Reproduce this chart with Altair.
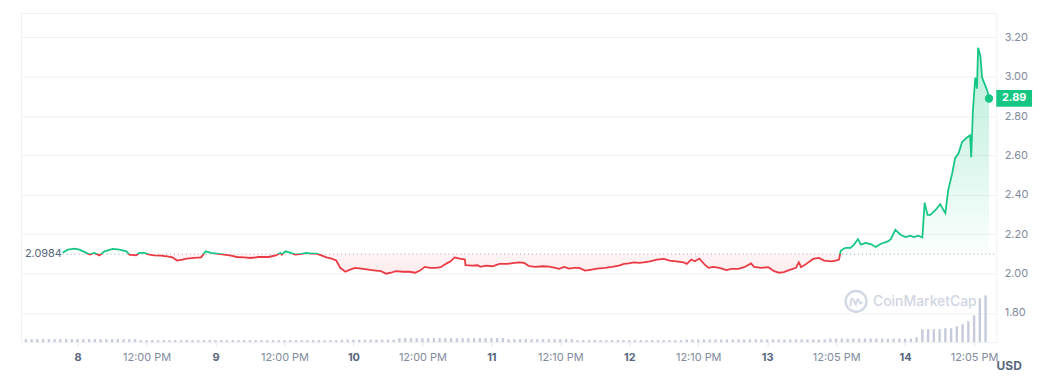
import altair as alt
import pandas as pd

# ---- data ----
# hours since "8" 00:00
hours = [
    -2.6, -1.7, -0.5, 0.3, 1.2, 2.1, 2.9, 3.8, 4.7, 6.1,
    7.3, 8.5, 9.0, 10.2, 10.7, 11.6, 12.5, 13.3, 14.5, 15.6,
    16.5, 17.3, 18.2, 19.0, 20.3, 21.5, 22.3, 23.2, 24.2, 25.5,
    26.7, 27.7, 28.9, 30.1, 31.5, 33.2, 34.5, 35.3, 35.5, 36.2,
    37.1, 37.9, 39.0, 39.8, 40.7, 41.6, 42.4, 43.3, 44.2, 45.0,
    45.7, 46.6, 47.4, 48.3, 49.4, 50.6, 51.9, 52.8, 53.7, 54.5,
    55.4, 56.6, 57.8, 58.7, 59.6, 60.4, 61.3, 62.3, 63.2, 63.9,
    64.4, 64.9, 65.6, 66.5, 67.4, 67.5, 68.7, 69.6, 70.1, 71.0,
    72.2, 73.4, 74.8, 76.0, 76.9, 77.7, 78.6, 79.7, 80.9, 82.1,
    83.1, 83.8, 84.7, 85.5, 86.4, 87.3, 88.3, 89.2, 90.4, 91.8,
    93.0, 94.2, 95.1, 95.9, 96.8, 97.7, 98.5, 99.6, 100.8, 102.0,
    103.0, 104.2, 105.4, 106.0, 106.8, 107.4, 108.2, 109.1, 109.8, 110.6,
    111.7, 112.9, 113.8, 115.0, 116.0, 117.2, 117.7, 119.0, 120.2, 121.2,
    122.1, 122.9, 123.8, 125.0, 125.5, 125.9, 126.8, 128.0, 129.0, 129.9,
    131.1, 131.9, 132.5, 132.8, 133.3, 133.7, 134.5, 135.1, 135.8, 136.3,
    137.1, 138.0, 138.9, 139.7, 141.0, 141.5, 142.3, 143.2, 144.1, 144.9,
    145.5, 146.3, 147.0, 147.4, 147.9, 148.4, 149.3, 150.1, 151.0, 151.5,
    152.2, 152.7, 153.3, 153.9, 154.8, 155.3, 155.5, 155.8, 156.2, 156.5,
    156.7, 157.1, 157.4, 157.6, 158.3, 158.6,
]
price = [
    2.105, 2.121, 2.126, 2.121, 2.110, 2.096, 2.105, 2.092, 2.113, 2.125,
    2.121, 2.113, 2.096, 2.092, 2.105, 2.105, 2.096, 2.092, 2.091, 2.087,
    2.082, 2.066, 2.071, 2.076, 2.079, 2.082, 2.113, 2.105, 2.101, 2.096,
    2.091, 2.084, 2.082, 2.079, 2.084, 2.084, 2.092, 2.105, 2.096, 2.113,
    2.105, 2.096, 2.100, 2.105, 2.101, 2.101, 2.092, 2.082, 2.076, 2.066,
    2.029, 2.009, 2.020, 2.029, 2.025, 2.020, 2.015, 2.012, 1.999, 2.004,
    2.012, 2.009, 2.009, 2.004, 2.015, 2.034, 2.029, 2.029, 2.032, 2.046,
    2.054, 2.062, 2.082, 2.076, 2.071, 2.042, 2.040, 2.042, 2.034, 2.040,
    2.037, 2.049, 2.049, 2.054, 2.057, 2.054, 2.037, 2.034, 2.037, 2.035,
    2.029, 2.024, 2.034, 2.025, 2.029, 2.029, 2.015, 2.019, 2.025, 2.029,
    2.034, 2.040, 2.049, 2.051, 2.057, 2.054, 2.057, 2.062, 2.071, 2.074,
    2.066, 2.062, 2.057, 2.049, 2.071, 2.062, 2.076, 2.046, 2.029, 2.034,
    2.029, 2.017, 2.024, 2.024, 2.032, 2.051, 2.034, 2.029, 2.032, 2.012,
    2.004, 2.007, 2.017, 2.029, 2.057, 2.032, 2.049, 2.074, 2.079, 2.066,
    2.062, 2.066, 2.071, 2.116, 2.126, 2.130, 2.130, 2.147, 2.175, 2.147,
    2.155, 2.150, 2.135, 2.150, 2.163, 2.175, 2.222, 2.197, 2.185, 2.192,
    2.185, 2.192, 2.183, 2.360, 2.298, 2.298, 2.323, 2.352, 2.307, 2.424,
    2.510, 2.586, 2.611, 2.667, 2.692, 2.702, 2.591, 2.828, 2.995, 2.939,
    3.147, 3.106, 2.995, 2.980, 2.929, 2.889,
]

# hourly volume (relative units), hours -9 .. 158
vol_hours = list(range(-9, 159))
volume = [
    3, 3, 3, 3, 3, 3, 3, 3, 3, 3, 3, 3, 3, 3, 3, 3, 3, 3, 3, 3,
    2, 2, 2, 2, 2, 2, 2, 2, 2, 2, 2, 2, 2, 2, 2, 2, 2, 2, 2, 2,
    2, 2, 2, 2, 2, 2, 2, 2, 2, 2, 2, 2, 2, 2, 2,
    2.5, 2.5, 2.5, 2.5, 2.5, 2.5, 2.5, 2.5, 2.5, 2.5,
    4, 4, 4, 4, 4, 4, 4, 4, 4, 4, 4, 4, 4, 4, 4, 4, 4, 4, 4,
    3, 3, 3, 3, 3, 3, 3, 3, 3, 3, 3, 3,
    2, 2, 2, 2, 2, 2, 2, 2, 2, 2, 2, 2, 2, 2, 2, 2, 2, 2, 2,
    2.7, 2.7, 2.7, 2.7, 2.7, 2.7, 2.7, 2.7, 2.7, 2.7, 2.7, 2.7, 2.7,
    2.7, 2.7, 2.7, 2.7, 2.7, 2.7, 2.7, 2.7, 2.7, 2.7, 2.7, 2.7,
    3.5, 3.5, 3.5, 3.5, 3.5, 3.5, 3.5, 3.5, 3.5, 3.5, 3.5, 3.5, 3.5, 3.5, 3.5,
    5,
    13, 13, 13, 13, 14,
    14, 16, 18, 21, 27, 44, 47,
]

tick_hours = [0, 12, 24, 36, 48, 60, 72, 84, 96, 108, 120, 132, 144, 156]
tick_labels = ["8", "12:00 PM", "9", "12:00 PM", "10", "12:00 PM", "11",
               "12:10 PM", "12", "12:10 PM", "13", "12:05 PM", "14", "12:05 PM"]
y_ticks = [1.8, 2.0, 2.2, 2.4, 2.6, 2.8, 3.0, 3.2]

open_price = 2.0984
last_price = 2.89
x_domain = [-9.86, 159.86]

GREEN = "#16c784"
RED = "#ea3943"
LABEL = "#808a9d"
DARK = "#58667e"
FONT = "Inter"

W, H = 981, 331

pmax, pmin = max(price), min(price)
f = (pmax - open_price) / (pmax - pmin)

df = pd.DataFrame({"h": hours, "p": price})
vdf = pd.DataFrame({"h": vol_hours, "v": volume})
last = pd.DataFrame({"h": [hours[-1]], "p": [price[-1]]})

x_scale = alt.Scale(domain=x_domain, nice=False, zero=False)
y_scale = alt.Scale(domain=[1.6515, 3.3232], nice=False, zero=False)

label_js = "[" + ",".join("'%s'" % t for t in tick_labels) + "][round(datum.value/12)]"

x_axis = alt.Axis(
    values=tick_hours, labelExpr=label_js, title=None, grid=False, domain=False,
    ticks=True, tickSize=4, tickColor="#e3e6ec", labelPadding=5,
    labelFont=FONT, labelFontSize=11,
    labelColor={"condition": {"test": "round(datum.value/12) % 2 == 0", "value": DARK}, "value": LABEL},
    labelFontWeight={"condition": {"test": "round(datum.value/12) % 2 == 0", "value": "bold"}, "value": "normal"},
)
y_axis = alt.Axis(
    orient="right", values=y_ticks, format=".2f", title=None, grid=True,
    gridColor="#eff1f5", ticks=False, domain=False, labelPadding=8,
    labelFont=FONT, labelFontSize=11, labelColor=LABEL,
)

X = alt.X("h:Q", scale=x_scale, axis=x_axis)
Y = alt.Y("p:Q", scale=y_scale, axis=y_axis)

area_grad = alt.Gradient(
    gradient="linear", x1=0, x2=0, y1=0, y2=1,
    stops=[
        alt.GradientStop(color="rgba(22,199,132,0.30)", offset=0),
        alt.GradientStop(color="rgba(22,199,132,0.02)", offset=f),
        alt.GradientStop(color="rgba(234,57,67,0.05)", offset=f),
        alt.GradientStop(color="rgba(234,57,67,0.10)", offset=1),
    ],
)
line_grad = alt.Gradient(
    gradient="linear", x1=0, x2=0, y1=0, y2=1,
    stops=[
        alt.GradientStop(color=GREEN, offset=0),
        alt.GradientStop(color=GREEN, offset=f),
        alt.GradientStop(color=RED, offset=f),
        alt.GradientStop(color=RED, offset=1),
    ],
)

base = alt.Chart(df)

area = base.mark_area(fill=area_grad).encode(x=X, y=Y, y2=alt.datum(open_price))
line = base.mark_line(stroke=line_grad, strokeWidth=1.8).encode(x=X, y=Y)

baseline = alt.Chart(last).mark_rule(
    strokeDash=[1, 3], color="#9aa3b5", strokeWidth=1
).encode(
    x=alt.X(datum=hours[0], scale=x_scale),
    x2=alt.X2(datum=x_domain[1] - 0.3),
    y=alt.Y(datum=open_price, scale=y_scale),
)

open_label = alt.Chart(last).mark_text(
    text="2.0984", align="left", baseline="middle", font=FONT, fontSize=11, color=DARK
).encode(x=alt.value(4), y=alt.Y(datum=open_price, scale=y_scale))

dot = alt.Chart(last).mark_point(filled=True, size=70, color=GREEN, opacity=1).encode(
    x=alt.X("h:Q", scale=x_scale), y=alt.Y("p:Q", scale=y_scale)
)

badge = alt.Chart(last).mark_point(
    shape="M-1,-0.47L1,-0.47L1,0.47L-1,0.47Z", size=1296, filled=True,
    color=GREEN, opacity=1, strokeWidth=0
).encode(x=alt.value(999), y=alt.Y(datum=last_price, scale=y_scale))

badge_text = alt.Chart(last).mark_text(
    text="2.89", font=FONT, fontSize=11, fontWeight="bold", color="white",
    align="center", baseline="middle"
).encode(x=alt.value(999), y=alt.Y(datum=last_price, scale=y_scale))

usd = alt.Chart(last).mark_text(
    text="USD", font=FONT, fontSize=12, fontWeight="bold", color=DARK,
    align="center", baseline="middle"
).encode(x=alt.value(994), y=alt.value(355))

wm_circle = alt.Chart(last).mark_point(
    shape="circle", size=440, filled=False, strokeWidth=2.4, color="#d2d8e4", opacity=1
).encode(x=alt.value(840), y=alt.value(290))
wm_wave = alt.Chart(last).mark_point(
    shape="M-0.55,0.45L-0.5,-0.05Q-0.38,-0.45-0.2,-0.05L-0.02,0.3Q0.12,-0.45 0.3,-0.05L0.42,0.2L0.62,0.08",
    size=440, filled=False, strokeWidth=2.0, color="#d2d8e4", opacity=1
).encode(x=alt.value(840), y=alt.value(290))
wm_text = alt.Chart(last).mark_text(
    text="CoinMarketCap", font=FONT, fontSize=14, fontWeight=500, color="#cfd5e2",
    align="left", baseline="middle"
).encode(x=alt.value(857), y=alt.value(291))

vol = alt.Chart(vdf).mark_rule(strokeWidth=2.4, color="#c6cbdb").encode(
    x=alt.X("h:Q", scale=x_scale, axis=x_axis),
    y=alt.Y("v:Q", scale=alt.Scale(domain=[0, 331], nice=False), axis=None),
    y2=alt.datum(0),
)

price_layers = alt.layer(
    area, baseline, line, open_label, dot, badge, badge_text, usd,
    wm_circle, wm_wave, wm_text,
)

chart = alt.layer(vol, price_layers).resolve_scale(y="independent").properties(
    width=W, height=H,
    autosize=alt.AutoSizeParams(type="none"),
    padding={"left": 13, "top": 4, "right": 45, "bottom": 35},
    background="white",
).configure_view(stroke="#eff1f5").configure_text(font=FONT)

chart.save("out.html", embed_options={"renderer": "svg", "actions": False})
